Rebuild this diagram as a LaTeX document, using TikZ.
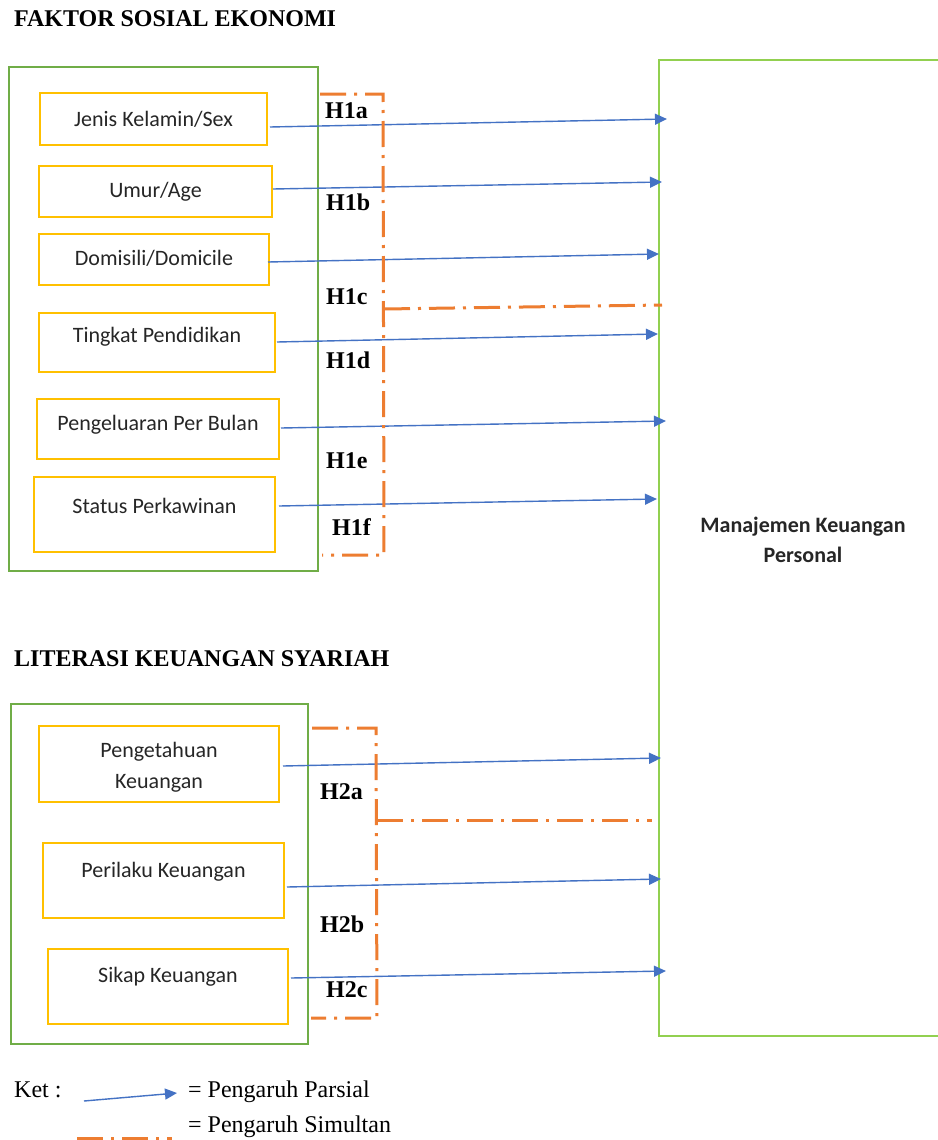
\documentclass[tikz,border=0pt]{standalone}
\usepackage{fontspec}
\setmainfont{Liberation Serif}
\newfontfamily\calfont{Carlito}
\usetikzlibrary{arrows.meta}
\definecolor{ygold}{HTML}{FFC000}
\definecolor{gdark}{HTML}{70AD47}
\definecolor{glight}{HTML}{92D050}
\definecolor{oran}{HTML}{ED7D31}
\definecolor{blu}{HTML}{4472C4}
\begin{document}
\begin{tikzpicture}[x=1pt,y=-1pt,
  ybox/.style={draw=ygold,line width=2pt,inner sep=0pt},
  gbox/.style={draw=gdark,line width=1.6pt,inner sep=0pt},
  tbox/.style={draw=glight,line width=2pt,inner sep=0pt},
  btxt/.style={font=\calfont\fontsize{22}{31}\selectfont,text=black!85,inner sep=0pt,align=center},
  ttl/.style={font=\bfseries\fontsize{24}{28}\selectfont,anchor=base west,inner sep=0pt},
  hlab/.style={font=\bfseries\fontsize{24}{28}\selectfont,anchor=base west,inner sep=0pt},
  legtxt/.style={font=\fontsize{24}{28}\selectfont,anchor=base west,inner sep=0pt},
  partial/.style={draw=blu,line width=1.4pt,-{Triangle[length=12pt,width=11pt]}},
  simul/.style={draw=oran,line width=3pt,dash pattern=on 26pt off 8pt on 3pt off 8pt}]
\useasboundingbox[fill=white] (0,0) rectangle (937,1140);

% titles
\node[ttl] (t1) at (14,27) {FAKTOR SOSIAL EKONOMI};
\node[ttl] (t2) at (14,666) {LITERASI KEUANGAN SYARIAH};

% outer group boxes
\node[gbox,minimum width=309pt,minimum height=504pt] (g1) at (163.5,319) {};
\node[gbox,minimum width=297pt,minimum height=340pt] (g2) at (159.5,874) {};
\node[tbox,minimum width=288pt,minimum height=976pt] (mk) at (803,548) {};
\node[btxt,font=\calfont\bfseries\fontsize{22}{30}\selectfont] (mkt) at (803,540) {Manajemen Keuangan\\Personal};

% yellow boxes
\node[ybox,minimum width=227pt,minimum height=52pt] (b1) at (153.5,119) {};
\node[ybox,minimum width=233pt,minimum height=51pt] (b2) at (155.5,191.5) {};
\node[ybox,minimum width=230pt,minimum height=51pt] (b3) at (154,259.5) {};
\node[ybox,minimum width=236pt,minimum height=59pt] (b4) at (157,342.5) {};
\node[ybox,minimum width=242pt,minimum height=60pt] (b5) at (158,429) {};
\node[ybox,minimum width=241pt,minimum height=75pt] (b6) at (154.5,514.5) {};
\node[ybox,minimum width=240pt,minimum height=76pt] (b7) at (159,764) {};
\node[ybox,minimum width=241pt,minimum height=75pt] (b8) at (163.5,880.5) {};
\node[ybox,minimum width=240pt,minimum height=75pt] (b9) at (168,986.5) {};

\node[btxt] (l1) at (153.5,119) {Jenis Kelamin/Sex};
\node[btxt] (l2) at (155.5,192) {Umur/Age};
\node[btxt] (l3) at (154,258) {Domisili/Domicile};
\node[btxt] (l4) at (157,337) {Tingkat Pendidikan};
\node[btxt] (l5) at (158,425) {Pengeluaran Per Bulan};
\node[btxt] (l6) at (154.5,506) {Status Perkawinan};
\node[btxt] (l7) at (159,767.5) {Pengetahuan\\Keuangan};
\node[btxt] (l8) at (163.5,872) {Perilaku Keuangan};
\node[btxt] (l9) at (168,977) {Sikap Keuangan};

% arrow end points
\coordinate (s1) at (270,127); \coordinate (e1) at (667,119);
\coordinate (s2) at (273,189); \coordinate (e2) at (662,182);
\coordinate (s3) at (268,262); \coordinate (e3) at (659,254);
\coordinate (s4) at (277,342); \coordinate (e4) at (658,334);
\coordinate (s5) at (281,428); \coordinate (e5) at (666,421);
\coordinate (s6) at (279,506); \coordinate (e6) at (657,499);
\coordinate (s7) at (283,766); \coordinate (e7) at (661,758);
\coordinate (s8) at (287,887); \coordinate (e8) at (661,879);
\coordinate (s9) at (291,978); \coordinate (e9) at (666,971);
\foreach \i in {1,...,9} {\draw[partial] (s\i) -- (e\i);}

% simultaneous brackets
\coordinate (p1a) at (320,94); \coordinate (p1b) at (383,94);
\coordinate (p1c) at (384,555); \coordinate (p1d) at (322,555);
\coordinate (p1m) at (384,309); \coordinate (p1n) at (662,305);
\draw[simul] (p1a) -- (p1b) -- (p1c) -- (p1d);
\draw[simul] (p1m) -- (p1n);
\coordinate (p2a) at (312,728); \coordinate (p2b) at (376,728);
\coordinate (p2c) at (377,1018); \coordinate (p2d) at (311,1018);
\coordinate (p2m) at (377,820); \coordinate (p2n) at (652,820);
\draw[simul] (p2a) -- (p2b) -- (p2c) -- (p2d);
\draw[simul] (p2m) -- (p2n);

% hypothesis labels
\node[hlab] (h1a) at (325,118) {H1a};
\node[hlab] (h1b) at (326,210) {H1b};
\node[hlab] (h1c) at (326,304) {H1c};
\node[hlab] (h1d) at (326,368) {H1d};
\node[hlab] (h1e) at (326,468) {H1e};
\node[hlab] (h1f) at (332,535) {H1f};
\node[hlab] (h2a) at (320,799) {H2a};
\node[hlab] (h2b) at (320,932) {H2b};
\node[hlab] (h2c) at (326,997) {H2c};

% legend
\node[legtxt] (ket) at (14,1097) {Ket :};
\coordinate (ls) at (84,1101); \coordinate (le) at (177,1093);
\draw[partial] (ls) -- (le);
\node[legtxt] (lp) at (188,1097) {= Pengaruh Parsial};
\node[legtxt] (lsim) at (188,1132) {= Pengaruh Simultan};
\coordinate (os) at (77,1138); \coordinate (oe) at (172,1138);
\draw[simul] (os) -- (oe);
\end{tikzpicture}
\end{document}
